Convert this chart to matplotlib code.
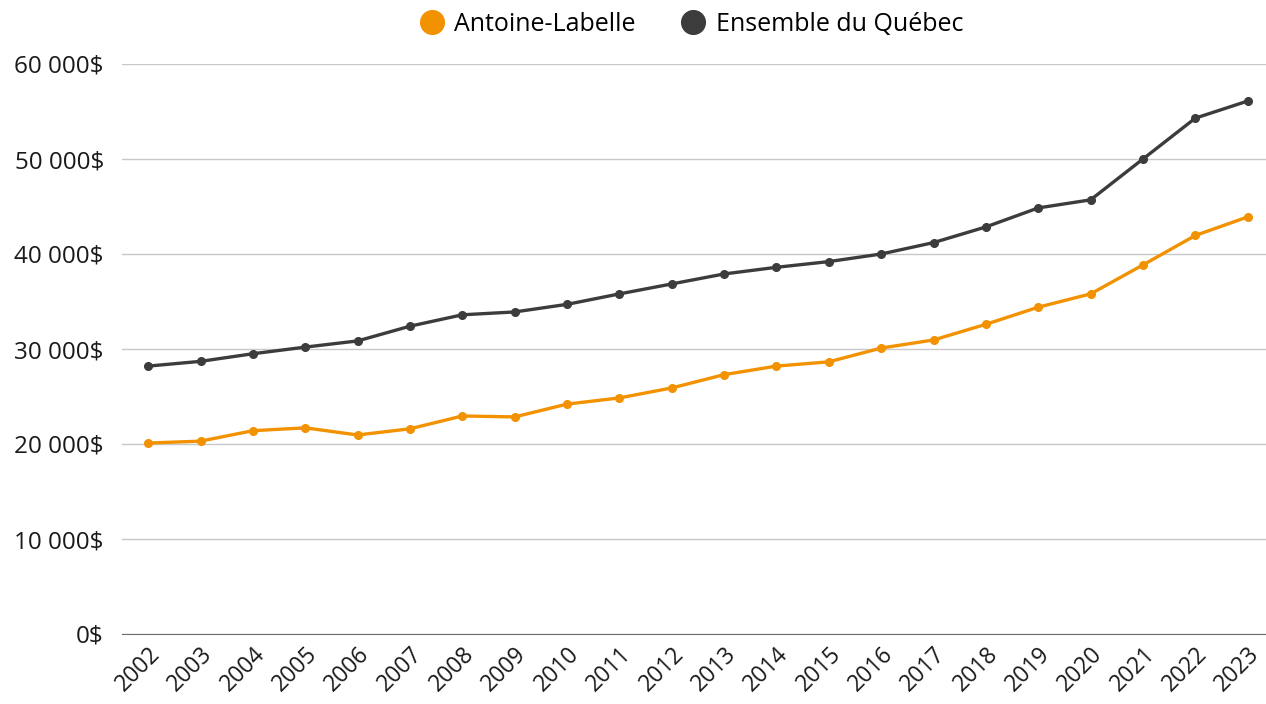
import matplotlib.pyplot as plt
from matplotlib.ticker import FuncFormatter

years = [str(y) for y in range(2002, 2024)]
antoine_labelle = [20100, 20300, 21400, 21700, 20950, 21600, 22950, 22850, 24200, 24850,
                   25900, 27300, 28200, 28650, 30100, 30950, 32600, 34400, 35800, 38850,
                   41950, 43900]
quebec = [28200, 28700, 29500, 30200, 30850, 32400, 33600, 33900, 34700, 35800,
          36850, 37900, 38600, 39200, 40000, 41200, 42850, 44850, 45700, 50000,
          54300, 56100]

plt.rcParams['font.family'] = ['Open Sans', 'DejaVu Sans']

fig = plt.figure(figsize=(12.66, 7.04), dpi=100)
ax = fig.add_axes([122 / 1266, 1 - 634 / 704, 1 - 122 / 1266, (634 - 64) / 704])

x = range(len(years))
ax.plot(x, antoine_labelle, color='#F39200', lw=2.4, marker='o', ms=5.5,
        label='Antoine-Labelle', zorder=3)
ax.plot(x, quebec, color='#3C3C3C', lw=2.4, marker='o', ms=5.5,
        label='Ensemble du Québec', zorder=3)

ax.set_ylim(0, 60000)
ax.set_yticks(range(0, 60001, 10000))
ax.yaxis.set_major_formatter(FuncFormatter(lambda v, p: f'{int(v):,}$'.replace(',', ' ')))
ax.set_xlim(-0.5, 21.35)
ax.set_xticks(list(x))
ax.set_xticklabels(years, rotation=45, ha='right', rotation_mode='anchor')

ax.grid(axis='y', color='#C8C8C8', lw=1)
ax.set_axisbelow(True)
for s in ['top', 'right', 'left']:
    ax.spines[s].set_visible(False)
ax.spines['bottom'].set_color('#6E6E6E')
ax.tick_params(axis='y', length=0, pad=13, labelsize=17.5, labelcolor='#1A1A1A')
ax.tick_params(axis='x', length=0, pad=6, labelsize=16.5, labelcolor='#1A1A1A')

leg = fig.legend(loc='upper center', bbox_to_anchor=(0.547, 1.015), ncol=2, frameon=False,
                 fontsize=18, handlelength=0.8, handletextpad=0.5, columnspacing=1.9,
                 markerscale=3.1)
for h in leg.legend_handles:
    h.set_linestyle('none')

fig.savefig('out.png', dpi=100)
